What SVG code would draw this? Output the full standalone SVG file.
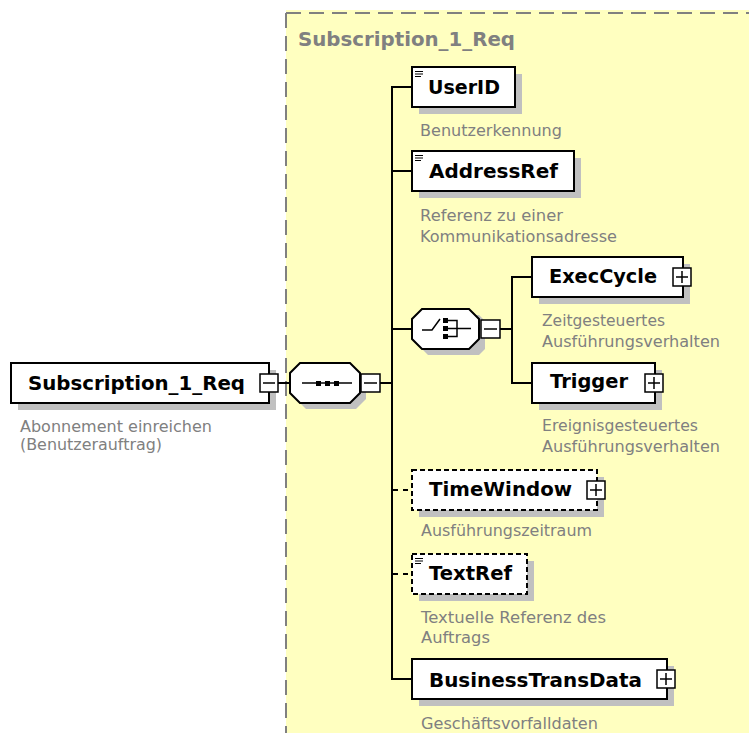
<svg xmlns="http://www.w3.org/2000/svg" width="749" height="733" viewBox="0 0 749 733">
<style>
.box{fill:#fff;stroke:#000;stroke-width:2}
.dbox{fill:#fff;stroke:#000;stroke-width:2;stroke-dasharray:5 3}
.shadow{fill:#c0c0c0;stroke:none}
.sq{fill:#fff;stroke:#000;stroke-width:1.5}
.pm{stroke:#000;stroke-width:1.5;fill:none}
.lbl{font-family:"DejaVu Sans",Verdana,sans-serif;font-weight:bold;font-size:19px;fill:#000}
.desc{font-family:"DejaVu Sans",Tahoma,sans-serif;font-size:15px;fill:#808080}
.title{font-family:"DejaVu Sans",Verdana,sans-serif;font-weight:bold;font-size:19px;fill:#808080}
.con{stroke:#000;stroke-width:2;fill:none}
.dcon{stroke:#000;stroke-width:2;fill:none;stroke-dasharray:5 5}
.ico{stroke:#000;stroke-width:1.2;fill:none}
</style>
<rect x="0" y="0" width="749" height="733" fill="#fff"/>
<g id="container">
<rect x="286" y="10" width="463" height="723" fill="#ffffc0"/>
<line x1="286" y1="13" x2="749" y2="13" stroke="#808080" stroke-width="2" stroke-dasharray="15 8"/>
<line x1="286" y1="13" x2="286" y2="733" stroke="#808080" stroke-width="2" stroke-dasharray="15 8"/>
<text class="title" x="298" y="46" textLength="217" lengthAdjust="spacingAndGlyphs">Subscription_1_Req</text>
</g>
<g id="connectors">
<line class="con" x1="278" y1="383" x2="290" y2="383"/>
<line class="con" x1="380" y1="383" x2="392" y2="383"/>
<line class="con" x1="392" y1="86" x2="392" y2="680"/>
<line class="con" x1="391" y1="87" x2="412" y2="87"/>
<line class="con" x1="391" y1="171" x2="412" y2="171"/>
<line class="con" x1="391" y1="329" x2="412" y2="329"/>
<line class="con" x1="391" y1="679" x2="412" y2="679"/>
<line class="dcon" x1="393" y1="490" x2="412" y2="490"/>
<line class="dcon" x1="393" y1="574" x2="412" y2="574"/>
<line class="con" x1="500" y1="329" x2="512" y2="329"/>
<line class="con" x1="512" y1="276" x2="512" y2="384"/>
<line class="con" x1="511" y1="277" x2="532" y2="277"/>
<line class="con" x1="511" y1="383" x2="532" y2="383"/>
</g>
<g id="main">
<rect class="shadow" x="18" y="370" width="258" height="40"/>
<rect class="box" x="11" y="363" width="258" height="40"/>
<text class="lbl" x="28" y="390" textLength="217" lengthAdjust="spacingAndGlyphs">Subscription_1_Req</text>
<rect class="sq" x="260" y="374" width="18" height="18"/>
<line class="pm" x1="263" y1="383" x2="275" y2="383"/>
<text class="desc" x="20" y="432" textLength="192" lengthAdjust="spacingAndGlyphs">Abonnement einreichen</text>
<text class="desc" x="20" y="450" textLength="142" lengthAdjust="spacingAndGlyphs">(Benutzerauftrag)</text>
</g>
<g id="sequence">
<polygon class="shadow" points="306,369 356,369 366,379 366,399 356,409 306,409 296,399 296,379"/>
<polygon class="box" points="300,363 350,363 360,373 360,393 350,403 300,403 290,393 290,373"/>
<line x1="302" y1="383" x2="352" y2="383" stroke="#000" stroke-width="1.5"/>
<rect x="316" y="381" width="5" height="5" fill="#000"/>
<rect x="325" y="381" width="5" height="5" fill="#000"/>
<rect x="334" y="381" width="5" height="5" fill="#000"/>
<rect class="sq" x="361" y="374" width="19" height="18"/>
<line class="pm" x1="364" y1="383" x2="377" y2="383"/>
</g>
<g id="UserID">
<rect class="shadow" x="419" y="74" width="103" height="40"/>
<rect class="box" x="412" y="67" width="103" height="40"/>
<path class="ico" d="M415 71.5h8M415 74h8M415 76.5h6"/>
<text class="lbl" x="428" y="94" textLength="72" lengthAdjust="spacingAndGlyphs">UserID</text>
<text class="desc" x="420" y="136" textLength="142" lengthAdjust="spacingAndGlyphs">Benutzerkennung</text>
</g>
<g id="AddressRef">
<rect class="shadow" x="419" y="158" width="162" height="40"/>
<rect class="box" x="412" y="151" width="162" height="40"/>
<path class="ico" d="M415 155.5h8M415 158h8M415 160.5h6"/>
<text class="lbl" x="429" y="178" textLength="129" lengthAdjust="spacingAndGlyphs">AddressRef</text>
<text class="desc" x="420" y="221" textLength="143" lengthAdjust="spacingAndGlyphs">Referenz zu einer</text>
<text class="desc" x="420" y="242" textLength="197" lengthAdjust="spacingAndGlyphs">Kommunikationsadresse</text>
</g>
<g id="choice">
<polygon class="shadow" points="428,315 479,315 485,321 485,349 479,355 428,355 418,345 418,325"/>
<polygon class="box" points="422,309 469,309 479,319 479,339 469,349 422,349 412,339 412,319"/>
<path d="M422 330h10l8-11" stroke="#000" stroke-width="1.5" fill="none"/>
<rect x="443" y="318" width="5" height="5" fill="#000"/>
<rect x="443" y="326" width="5" height="5" fill="#000"/>
<rect x="443" y="334" width="5" height="5" fill="#000"/>
<path d="M448 320.5h9v16h-9M448 328.5h23" stroke="#000" stroke-width="1.5" fill="none"/>
<rect class="sq" x="481" y="320" width="19" height="18"/>
<line class="pm" x1="484" y1="329" x2="497" y2="329"/>
</g>
<g id="ExecCycle">
<rect class="shadow" x="539" y="264" width="151" height="40"/>
<rect class="box" x="532" y="257" width="151" height="40"/>
<text class="lbl" x="549" y="283" textLength="108" lengthAdjust="spacingAndGlyphs">ExecCycle</text>
<rect class="sq" x="673" y="268" width="18" height="18"/>
<path class="pm" d="M676 277h12M682 271v12"/>
<text class="desc" x="542" y="326" textLength="123" lengthAdjust="spacingAndGlyphs">Zeitgesteuertes</text>
<text class="desc" x="542" y="347" textLength="178" lengthAdjust="spacingAndGlyphs">Ausführungsverhalten</text>
</g>
<g id="Trigger">
<rect class="shadow" x="539" y="370" width="123" height="40"/>
<rect class="box" x="532" y="363" width="123" height="40"/>
<text class="lbl" x="550" y="388" textLength="78" lengthAdjust="spacingAndGlyphs">Trigger</text>
<rect class="sq" x="645" y="374" width="18" height="18"/>
<path class="pm" d="M648 383h12M654 377v12"/>
<text class="desc" x="542" y="431" textLength="156" lengthAdjust="spacingAndGlyphs">Ereignisgesteuertes</text>
<text class="desc" x="542" y="452" textLength="178" lengthAdjust="spacingAndGlyphs">Ausführungsverhalten</text>
</g>
<g id="TimeWindow">
<rect class="shadow" x="419" y="477" width="185" height="40"/>
<rect class="dbox" x="412" y="470" width="185" height="40"/>
<text class="lbl" x="429" y="496" textLength="143" lengthAdjust="spacingAndGlyphs">TimeWindow</text>
<rect class="sq" x="587" y="481" width="18" height="18"/>
<path class="pm" d="M590 490h12M596 484v12"/>
<text class="desc" x="421" y="536" textLength="171" lengthAdjust="spacingAndGlyphs">Ausführungszeitraum</text>
</g>
<g id="TextRef">
<rect class="shadow" x="419" y="561" width="115" height="40"/>
<rect class="dbox" x="412" y="554" width="115" height="40"/>
<path class="ico" d="M415 558.5h8M415 561h8M415 563.5h6"/>
<text class="lbl" x="429" y="580" textLength="83" lengthAdjust="spacingAndGlyphs">TextRef</text>
<text class="desc" x="421" y="623" textLength="185" lengthAdjust="spacingAndGlyphs">Textuelle Referenz des</text>
<text class="desc" x="421" y="643" textLength="69" lengthAdjust="spacingAndGlyphs">Auftrags</text>
</g>
<g id="BusinessTransData">
<rect class="shadow" x="419" y="666" width="255" height="40"/>
<rect class="box" x="412" y="659" width="255" height="40"/>
<text class="lbl" x="429" y="687" textLength="213" lengthAdjust="spacingAndGlyphs">BusinessTransData</text>
<rect class="sq" x="657" y="670" width="18" height="18"/>
<path class="pm" d="M660 679h12M666 673v12"/>
<text class="desc" x="421" y="729" textLength="177" lengthAdjust="spacingAndGlyphs">Geschäftsvorfalldaten</text>
</g>
</svg>
